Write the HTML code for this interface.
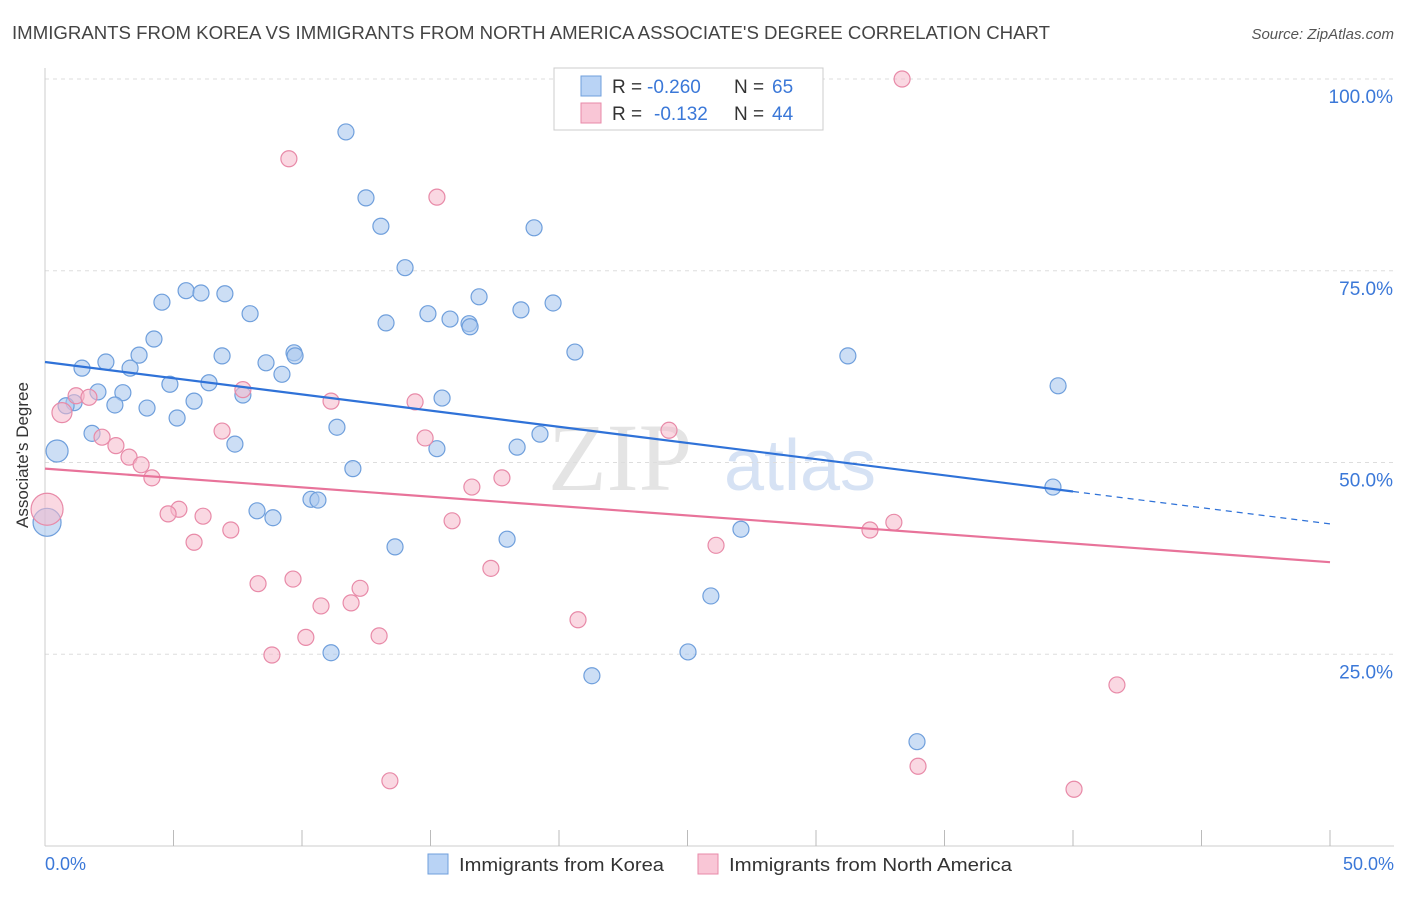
<!DOCTYPE html>
<html><head><meta charset="utf-8"><style>
body{margin:0;background:#fff;font-family:"Liberation Sans",sans-serif;}
</style></head><body>
<svg id="chart" width="1406" height="892" xmlns="http://www.w3.org/2000/svg">
<text x="12" y="39" font-size="18" fill="#444" textLength="1038" lengthAdjust="spacingAndGlyphs">IMMIGRANTS FROM KOREA VS IMMIGRANTS FROM NORTH AMERICA ASSOCIATE'S DEGREE CORRELATION CHART</text>
<text x="1394" y="39" font-size="15" fill="#555" font-style="italic" text-anchor="end">Source: ZipAtlas.com</text>
<text x="620" y="490" font-size="96" fill="#e4e4e4" font-family="Liberation Serif,serif" text-anchor="middle">ZIP</text>
<text x="800" y="490" font-size="72" fill="#d6e2f4" text-anchor="middle">atlas</text>
<g id="grid"></g><g id="marks"></g>
<text x="28" y="455" font-size="17" fill="#333" text-anchor="middle" transform="rotate(-90 28 455)">Associate's Degree</text>
<text x="45" y="870" font-size="18" fill="#3b78d8">0.0%</text>
<text x="1394" y="870" font-size="18" fill="#3b78d8" text-anchor="end">50.0%</text>
<g>
<rect x="554" y="68" width="269" height="62" fill="#fff" stroke="#ccc"/>
<rect x="581" y="76" width="20" height="20" fill="#b9d3f5" stroke="#6f9fdc"/>
<rect x="581" y="103" width="20" height="20" fill="#f9c6d6" stroke="#e88aa8"/>
<text x="612" y="93" font-size="19" fill="#333">R =</text>
<text x="647" y="93" font-size="19" fill="#3b78d8">-0.260</text>
<text x="734" y="93" font-size="19" fill="#333">N =</text>
<text x="772" y="93" font-size="19" fill="#3b78d8">65</text>
<text x="612" y="120" font-size="19" fill="#333">R =</text>
<text x="654" y="120" font-size="19" fill="#3b78d8">-0.132</text>
<text x="734" y="120" font-size="19" fill="#333">N =</text>
<text x="772" y="120" font-size="19" fill="#3b78d8">44</text>
</g>
<g>
<rect x="428" y="854" width="20" height="20" fill="#b9d3f5" stroke="#6f9fdc"/>
<text x="459" y="871" font-size="18" fill="#333" textLength="205" lengthAdjust="spacingAndGlyphs">Immigrants from Korea</text>
<rect x="698" y="854" width="20" height="20" fill="#f9c6d6" stroke="#e88aa8"/>
<text x="729" y="871" font-size="18" fill="#333" textLength="283" lengthAdjust="spacingAndGlyphs">Immigrants from North America</text>
</g>
</svg>
<script>
const yTicks=[25,50,75,100];
const yTickLabels=["25.0%","50.0%","75.0%","100.0%"];
const xTicks=[5,10,15,20,25,30,35,40,45,50];
const koreaX=[11.71,12.49,13.07,19.03,14.01,5.49,6.07,7.00,4.55,16.89,19.77,18.52,7.98,14.90,15.76,13.27,16.50,16.54,4.24,3.66,6.89,9.69,9.73,20.62,31.24,2.37,1.44,3.31,8.60,9.22,4.86,6.38,39.42,2.06,3.03,7.70,5.80,15.45,1.13,0.82,2.72,3.97,5.14,11.36,1.83,19.26,7.39,18.37,15.25,0.47,11.98,39.22,10.35,10.62,8.25,8.87,0.08,27.08,17.98,13.62,25.91,11.13,25.02,21.28,33.93];
const koreaY=[93.1,84.5,80.8,80.6,75.4,72.4,72.1,72.0,70.9,71.6,70.8,69.9,69.4,69.4,68.7,68.2,68.1,67.7,66.1,64.0,63.9,64.3,63.9,64.4,63.9,63.1,62.3,62.3,63.0,61.5,60.2,60.4,60.0,59.2,59.1,58.8,58.0,58.4,57.8,57.4,57.5,57.1,55.8,54.6,53.8,53.7,52.4,52.0,51.8,51.5,49.2,46.8,45.2,45.1,43.7,42.8,42.2,41.3,40.0,39.0,32.6,25.2,25.3,22.2,13.6];
const koreaR=[8,8,8,8,8,8,8,8,8,8,8,8,8,8,8,8,8,8,8,8,8,8,8,8,8,8,8,8,8,8,8,8,8,8,8,8,8,8,8,8,8,8,8,8,8,8,8,8,8,11,8,8,8,8,8,8,14,8,8,8,8,8,8,8,8];
const naX=[33.35,29.57,9.49,15.25,1.21,1.71,7.70,11.13,14.40,0.66,6.89,2.22,14.79,24.28,2.76,3.27,3.74,4.16,17.78,16.61,0.08,5.21,4.79,6.15,15.84,33.03,32.10,7.23,5.80,26.11,17.35,9.65,8.29,12.26,11.91,10.74,20.74,10.15,13.00,8.83,41.71,33.97,13.42,40.04];
const naY=[100,100,89.6,84.6,58.7,58.5,59.5,58.0,57.9,56.5,54.1,53.3,53.2,54.2,52.2,50.7,49.7,48.0,48.0,46.8,43.9,43.9,43.3,43.0,42.4,42.2,41.2,41.2,39.6,39.2,36.2,34.8,34.2,33.6,31.7,31.3,29.5,27.2,27.4,24.9,21.0,10.4,8.5,7.4];
const naR=[8,8,8,8,8,8,8,8,8,10,8,8,8,8,8,8,8,8,8,8,16,8,8,8,8,8,8,8,8,8,8,8,8,8,8,8,8,8,8,8,8,8,8,8];
const koreaTrend=[63.1,42.0];
const naTrend=[49.2,37.0];
const X=v=>45+v/50*1285, Y=v=>846-v/100*767;
const NS="http://www.w3.org/2000/svg";
function mk(t,a,p){const e=document.createElementNS(NS,t);for(const k in a)e.setAttribute(k,a[k]);p.appendChild(e);return e;}
const g=document.getElementById('grid'),m=document.getElementById('marks');
yTicks.forEach((t,i)=>{
 const l=mk('line',{x1:45,x2:1394,y1:Y(t),y2:Y(t),stroke:'#ddd','stroke-dasharray':'4 4'},g);
 
 
 const tx=mk('text',{x:1393,y:Y(t)+24,'font-size':19,fill:'#3b78d8','text-anchor':'end'},g);
 tx.textContent=yTickLabels[i];
 
 
});
const ax=mk('line',{x1:45,x2:1394,y1:846,y2:846,stroke:'#ccc'},g);


const ay=mk('line',{x1:45,x2:45,y1:68,y2:846,stroke:'#ccc'},g);


xTicks.forEach(t=>{
 const l=mk('line',{x1:X(t),x2:X(t),y1:830,y2:846,stroke:'#bbb'},g);
 
 
});
koreaX.forEach((x,i)=>{
 const c=mk('circle',{cx:X(x),cy:Y(koreaY[i]),r:koreaR[i],fill:'#aac8ee','fill-opacity':0.6,stroke:'#6f9fdc','stroke-width':1.2},m);
 
 
});
naX.forEach((x,i)=>{
 const c=mk('circle',{cx:X(x),cy:Y(naY[i]),r:naR[i],fill:'#f5b8cb','fill-opacity':0.55,stroke:'#e88aa8','stroke-width':1.2},m);
 
 
});
const kAt=x=>koreaTrend[0]+(koreaTrend[1]-koreaTrend[0])*x/50;
const l1=mk('line',{x1:X(0),y1:Y(kAt(0)),x2:X(40),y2:Y(kAt(40)),stroke:'#2f72d8','stroke-width':2.2},m);


const l2=mk('line',{x1:X(40),y1:Y(kAt(40)),x2:X(50),y2:Y(kAt(50)),stroke:'#2f72d8','stroke-width':1.2,'stroke-dasharray':'6 5'},m);


const l3=mk('line',{x1:X(0),y1:Y(naTrend[0]),x2:X(50),y2:Y(naTrend[1]),stroke:'#e8739a','stroke-width':2.2},m);


</script>
</body></html>
